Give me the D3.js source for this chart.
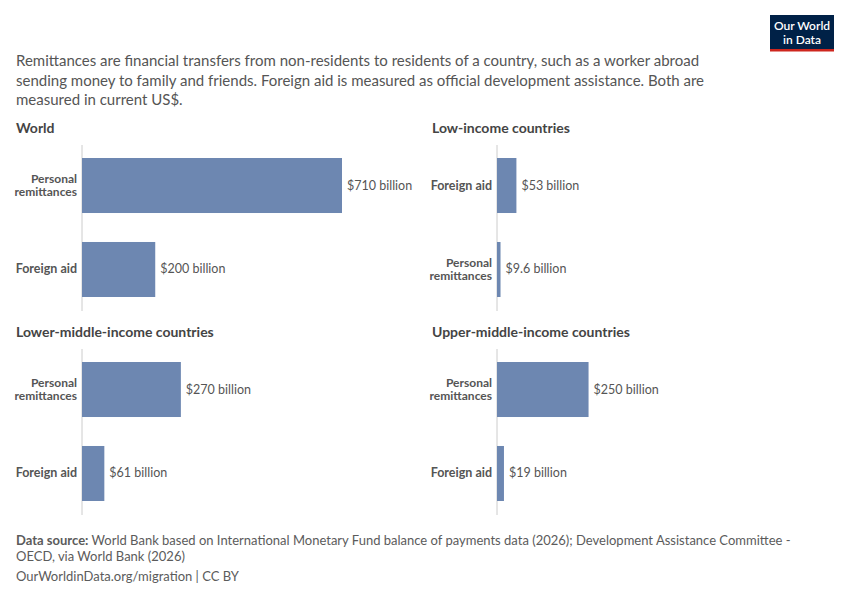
<!DOCTYPE html>
<html><head><meta charset="utf-8">
<script src="https://cdn.jsdelivr.net/npm/d3@7"></script>
<style>body{margin:0;background:#fff;font-family:Lato,"Noto Sans",sans-serif}</style>
</head><body><svg id="c" width="850" height="600"></svg>
<script>
const panels = ["World","Low-income countries","Lower-middle-income countries","Upper-middle-income countries"];
const cats = [
  ["Personal remittances","Foreign aid"],
  ["Foreign aid","Personal remittances"],
  ["Personal remittances","Foreign aid"],
  ["Personal remittances","Foreign aid"]
];
const values = [[710,200],[53,9.6],[270,61],[250,19]];
const valueLabels = [["$710 billion","$200 billion"],["$53 billion","$9.6 billion"],["$270 billion","$61 billion"],["$250 billion","$19 billion"]];
const subtitle = ["Remittances are financial transfers from non-residents to residents of a country, such as a worker abroad","sending money to family and friends. Foreign aid is measured as official development assistance. Both are","measured in current US$."];

const svg = d3.select("#c");
const grey="#5b5b5b";
subtitle.forEach((t,i)=>svg.append("text").attr("x",16).attr("y",66+i*19.5).attr("font-size",15).attr("fill","#555").text(t));

// logo
const lg=svg.append("g");
lg.append("rect").attr("x",770).attr("y",15).attr("width",64).attr("height",36).attr("fill","#002147");
lg.append("rect").attr("x",770).attr("y",49).attr("width",64).attr("height",2.5).attr("fill","#ce261e");
lg.append("text").attr("x",802).attr("y",30).attr("text-anchor","middle").attr("fill","#fff").attr("font-size",12).attr("font-weight",600).text("Our World");
lg.append("text").attr("x",802).attr("y",44).attr("text-anchor","middle").attr("fill","#fff").attr("font-size",12).attr("font-weight",600).text("in Data");

const x = d3.scaleLinear().domain([0,710]).range([0,260]);
const pos = [[16,82,129],[432,497,129],[16,82,333],[432,497,333]];
panels.forEach((p,i)=>{
  const [tx,ax,ty]=pos[i];
  const g=svg.append("g");
  g.append("text").attr("x",tx).attr("y",ty+4).attr("font-size",14).attr("font-weight",700).attr("fill","#444").text(p);
  const y=d3.scaleBand().domain(cats[i]).range([ty+29,ty+168]).paddingInner(0.345).paddingOuter(0);
  g.append("line").attr("x1",ax).attr("x2",ax).attr("y1",ty+16).attr("y2",ty+182).attr("stroke","#ccc");
  cats[i].forEach((c,j)=>{
    const yy=y(c), h=y.bandwidth();
    g.append("rect").attr("x",ax).attr("y",yy).attr("width",x(values[i][j])).attr("height",h).attr("fill","#6d87b1");
    g.append("text").attr("x",ax+x(values[i][j])+5).attr("y",yy+h/2+4).attr("font-size",12.5).attr("fill","#555").text(valueLabels[i][j]);
    const words = c==="Personal remittances"?["Personal","remittances"]:[c];
    words.forEach((w,k)=>g.append("text").attr("x",ax-5).attr("y",yy+h/2+4+(k-(words.length-1)/2)*13.5)
      .attr("text-anchor","end").attr("font-size",words.length>1?12:12.5).attr("font-weight",700).attr("fill","#555").text(w));
  });
});

const f=svg.append("g").attr("font-size",13).attr("fill",grey);
const t1=f.append("text").attr("x",16).attr("y",545);
t1.append("tspan").attr("font-weight",700).text("Data source: ");
t1.append("tspan").text("World Bank based on International Monetary Fund balance of payments data (2026); Development Assistance Committee -");
f.append("text").attr("x",16).attr("y",561).text("OECD, via World Bank (2026)");
f.append("text").attr("x",16).attr("y",581).text("OurWorldinData.org/migration | CC BY");
</script></body></html>
